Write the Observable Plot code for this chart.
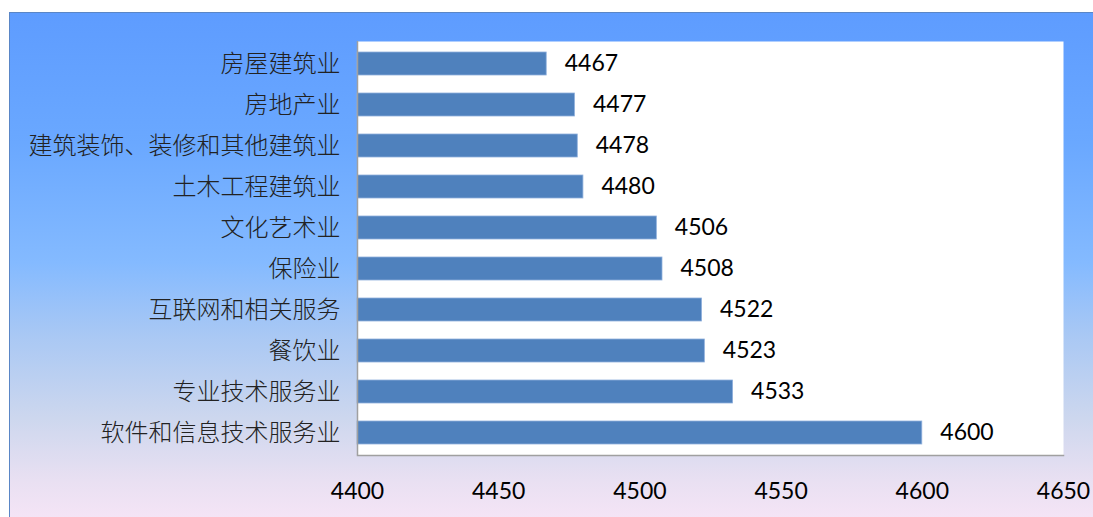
<!DOCTYPE html>
<html>
<head>
<meta charset="utf-8">
<script src="https://cdn.jsdelivr.net/npm/d3@7"></script>
<script src="https://cdn.jsdelivr.net/npm/@observablehq/plot@0.6"></script>
<style>
  html, body { margin: 0; padding: 0; background: #ffffff; }
  #wrap { position: relative; width: 1093px; height: 517px; overflow: hidden; }
  #panel {
    position: absolute; left: 9px; top: 12px; width: 1100px; height: 520px;
    border-left: 1px solid #5a86c6; border-top: 1px solid #5a86c6;
    background: linear-gradient(to bottom, #5e9cff 0%, #6aa8ff 25%, #84baff 48%, #a9c8f4 62%, #cdd7ee 78%, #e9e0f2 90%, #f9e6f7 100%);
  }
  #chart { position: absolute; left: 0; top: 0; }
</style>
</head>
<body>
<div id="wrap">
  <div id="panel"></div>
  <div id="chart"></div>
</div>
<script>
const categories = [
  "房屋建筑业",
  "房地产业",
  "建筑装饰、装修和其他建筑业",
  "土木工程建筑业",
  "文化艺术业",
  "保险业",
  "互联网和相关服务",
  "餐饮业",
  "专业技术服务业",
  "软件和信息技术服务业"
];
const values = [4467, 4477, 4478, 4480, 4506, 4508, 4522, 4523, 4533, 4600];
const xTicks = [4400, 4450, 4500, 4550, 4600, 4650];

const data = categories.map((c, i) => ({category: c, value: values[i]}));

const chart = Plot.plot({
  width: 1093,
  height: 517,
  marginLeft: 357,
  marginRight: 30,
  marginTop: 41,
  marginBottom: 62,
  style: {background: "transparent", overflow: "visible"},
  x: {domain: [4400, 4650], ticks: xTicks, label: null},
  y: {domain: categories, paddingInner: 0.44, paddingOuter: 0.22, label: null},
  marks: [
    Plot.frame({fill: "white", stroke: "none"}),
    Plot.frame({anchor: "bottom", stroke: "#a0a0a0", strokeWidth: 1.5}),
    Plot.barX(data, {x1: 4400, x2: "value", y: "category", fill: "#4f81bd", stroke: "#8fb0dc", strokeWidth: 0.8}),
    Plot.ruleX([4400], {stroke: "#a0a0a0", strokeWidth: 1.5}),
    Plot.text(data, {x: "value", y: "category", text: d => String(d.value), dx: 18, textAnchor: "start",
      fontSize: 23, fill: "#000", fontFamily: "Lato, 'Open Sans', sans-serif"}),
    Plot.axisX({ticks: xTicks, tickSize: 0, tickPadding: 27, tickFormat: d => String(d), fontSize: 23,
      fontFamily: "Lato, 'Open Sans', sans-serif", fill: "#000", label: null}),
    Plot.axisY({tickSize: 0, tickPadding: 17, fontSize: 24, fontWeight: 300,
      fontFamily: "'Noto Sans CJK SC', sans-serif", fill: "#222", label: null})
  ]
});
document.getElementById("chart").appendChild(chart);
</script>
</body>
</html>
